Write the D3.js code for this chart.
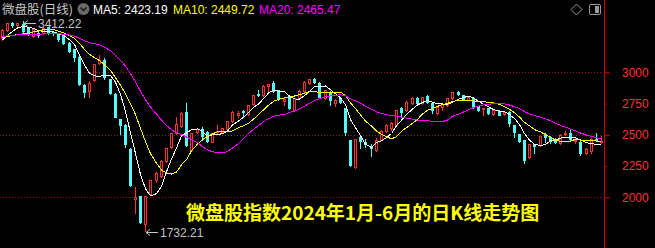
<!DOCTYPE html>
<html>
<head>
<meta charset="utf-8">
<script src="https://cdn.jsdelivr.net/npm/d3@7"></script>
<style>
  html, body { margin: 0; padding: 0; background: #000; overflow: hidden; }
  svg { display: block; }
</style>
</head>
<body>
<svg id="chart" width="655" height="248"></svg>
<script>
// Trading sessions, grouped by month
const tradingDays = [
  ["2023-12", [29]],
  ["2024-01", [2,3,4,5,8,9,10,11,12,15,16,17,18,19,22,23,24,25,26,29,30,31]],
  ["2024-02", [1,2,5,6,7,8,19,20,21,22,23,26,27,28,29]],
  ["2024-03", [1,4,5,6,7,8,11,12,13,14,15,18,19,20,21,22,25,26,27,28,29]],
  ["2024-04", [1,2,3,8,9,10,11,12,15,16,17,18,19,22,23,24,25,26,29,30]],
  ["2024-05", [6,7,8,9,10,13,14,15,16,17,20,21,22,23,24,27,28,29,30,31]],
  ["2024-06", [3,4,5,6,7,11,12,13,14,17,18,19,20,21,24,25,26,27,28]]
];
const dates = tradingDays.flatMap(([m, ds]) => ds.map(d => `${m}-${String(d).padStart(2, "0")}`));

// Daily OHLC of the micro-cap index
const open = [
  3272,3338,3395,3376,3386,3352,3290,3316,3312,3360,3322,3312,3298,3232,3184,3124,2898,2852,2938,3076,
  3098,2944,2826,2624,2578,2384,1986,2010,1784,2026,2138,2170,2292,2404,2516,2570,2684,2376,2524,2546,
  2524,2444,2520,2524,2546,2610,2658,2690,2664,2746,2826,2818,2890,2916,2858,2774,2810,2698,2792,2852,
  2916,2946,2916,2796,2844,2752,2792,2712,2458,2244,2480,2444,2410,2378,2462,2530,2552,2578,2712,2698,
  2752,2792,2756,2810,2752,2676,2724,2738,2792,2844,2818,2780,2792,2728,2704,2712,2664,2692,2666,2684,
  2578,2506,2458,2324,2426,2418,2506,2480,2470,2436,2512,2516,2452,2444,2352,2372,2466,2448
];
const high = [
  3346,3398,3404,3396,3412.22,3356,3350,3320,3364,3366,3330,3318,3302,3244,3190,3132,2910,2928,3070,3140,
  3112,2950,2834,2630,2590,2392,2084,2012,2014,2142,2200,2296,2396,2518,2644,2680,2756,2516,2556,2566,
  2530,2516,2578,2556,2614,2688,2690,2702,2742,2822,2856,2896,2910,2930,2862,2796,2816,2796,2856,2930,
  2950,2954,2922,2862,2850,2790,2800,2718,2462,2470,2498,2470,2426,2474,2536,2584,2604,2702,2726,2768,
  2800,2800,2804,2822,2758,2728,2756,2796,2846,2852,2822,2810,2800,2732,2716,2716,2700,2696,2688,2690,
  2582,2510,2462,2430,2430,2494,2516,2490,2474,2510,2534,2538,2474,2448,2396,2476,2512,2490
];
const low = [
  3262,3334,3360,3366,3326,3300,3284,3284,3306,3310,3302,3252,3228,3166,3092,2900,2805,2805,2930,3070,
  2946,2826,2640,2510,2404,2090,1872,1796,1732.21,2020,2124,2164,2286,2398,2510,2566,2410,2370,2512,2460,
  2444,2440,2514,2518,2540,2604,2640,2646,2660,2740,2812,2812,2842,2846,2778,2738,2710,2690,2786,2846,
  2910,2912,2798,2790,2738,2730,2756,2498,2254,2238,2392,2404,2330,2372,2456,2524,2540,2572,2644,2692,
  2746,2750,2750,2758,2676,2670,2698,2734,2786,2818,2780,2776,2718,2694,2658,2670,2660,2656,2660,2572,
  2484,2446,2276,2318,2356,2412,2444,2436,2438,2430,2500,2462,2432,2338,2346,2356,2452,2438
];
const close = [
  3338,3392,3382,3392,3332,3306,3344,3298,3352,3316,3314,3264,3236,3172,3124,2906,2845,2916,3066,3102,
  2960,2832,2644,2580,2424,2098,2004,1804,2010,2138,2192,2290,2392,2512,2586,2672,2418,2512,2546,2490,
  2450,2512,2530,2552,2610,2684,2676,2680,2738,2818,2818,2890,2906,2852,2784,2788,2716,2792,2850,2924,
  2946,2920,2804,2858,2778,2778,2764,2524,2258,2464,2452,2426,2392,2458,2532,2578,2592,2698,2684,2762,
  2792,2756,2800,2764,2698,2724,2746,2792,2840,2826,2784,2804,2724,2700,2712,2676,2696,2662,2680,2592,
  2524,2452,2298,2426,2410,2490,2486,2454.20,2440.18,2498.52,2515.30,2466.41,2460.84,2352.41,2389.12,2468.35,2455.62,2450.45
];
// Closes of the sessions before the window, used to warm up the moving averages
const priorClose = [3280,3302,3315,3290,3276,3298,3310,3305,3288,3296,3290,3312,3300,3285,3282,3205,3230,3250,3268];

const yTicks = [2000, 2250, 2500, 2750, 3000];
const gridValues = [2000, 2500, 3000];
const maPeriods = [5, 10, 20];
const maColors = ["#ffffff", "#ffff00", "#ff00ff"];
const upColor = "#ff3232", downColor = "#54fcfc";

const W = 655, H = 248, plotRight = 604;
const svg = d3.select("#chart");
svg.append("rect").attr("width", W).attr("height", H).attr("fill", "#000");

const x = d3.scaleBand().domain(dates).range([0, plotRight]);
const cx = i => Math.floor(x(dates[i]) + x.bandwidth() / 2);
const y = d3.scaleLinear().domain([2000, 3000]).range([197.3, 72.3]);
const py = v => Math.round(y(v));

// dotted grid
svg.append("g").selectAll("line").data(gridValues).join("line")
  .attr("x1", 0).attr("x2", plotRight - 1)
  .attr("y1", d => py(d) + 0.5).attr("y2", d => py(d) + 0.5)
  .attr("stroke", "#a01818").attr("stroke-width", 1)
  .attr("stroke-dasharray", "1,2").attr("shape-rendering", "crispEdges");

// candles
const candles = svg.append("g").attr("shape-rendering", "crispEdges");
dates.forEach((d, i) => {
  const o = open[i], c = close[i], h = high[i], l = low[i];
  const up = c >= o;
  const col = up ? upColor : downColor;
  const xc = cx(i);
  candles.append("rect")
    .attr("x", xc).attr("width", 1)
    .attr("y", py(h)).attr("height", Math.max(1, py(l) - py(h) + 1))
    .attr("fill", col);
  const top = py(Math.max(o, c)), bot = py(Math.min(o, c));
  if (up) {
    candles.append("rect")
      .attr("x", xc - 0.5).attr("width", 2)
      .attr("y", top + 0.5).attr("height", Math.max(1, bot - top))
      .attr("fill", "#000").attr("stroke", col).attr("stroke-width", 1);
  } else {
    candles.append("rect")
      .attr("x", xc - 1).attr("width", 3)
      .attr("y", top).attr("height", Math.max(1, bot - top + 1))
      .attr("fill", col);
  }
});

// moving averages
const allClose = priorClose.concat(close);
const lead = priorClose.length;
const maSeries = maPeriods.map(p => close.map((c, i) => d3.mean(allClose.slice(lead + i - p + 1, lead + i + 1))));
const line = d3.line().x((v, i) => cx(i) + 0.5).y(v => y(v));
svg.append("g").selectAll("path").data(maSeries).join("path")
  .attr("d", line)
  .attr("fill", "none")
  .attr("stroke", (d, k) => maColors[k])
  .attr("stroke-width", 1)
  .attr("shape-rendering", "crispEdges");

// extreme labels
const hiIdx = d3.maxIndex(high), loIdx = d3.minIndex(low);
function extremeLabel(i, v, dyArrow) {
  const g = svg.append("g").attr("stroke", "#c4c4c4").attr("fill", "none");
  const ax = cx(i) + 1, ay = py(v) + dyArrow + 0.5;
  g.append("line").attr("x1", ax).attr("x2", ax + 12).attr("y1", ay).attr("y2", ay);
  g.append("path").attr("d", `M${ax + 4},${ay - 3}L${ax},${ay}L${ax + 4},${ay + 3}`);
  svg.append("text").attr("x", ax + 14).attr("y", ay + 4.5)
    .attr("fill", "#c4c4c4").attr("font-family", "'Liberation Sans', Arial, sans-serif")
    .attr("font-size", 12).text(v.toFixed(2));
}
extremeLabel(hiIdx, high[hiIdx], 2);
extremeLabel(loIdx, low[loIdx], 1);

// right axis
const axisG = svg.append("g").attr("transform", `translate(${plotRight},0)`);
axisG.append("line").attr("x1", 0.5).attr("x2", 0.5).attr("y1", 0).attr("y2", H)
  .attr("stroke", "#d00000").attr("stroke-width", 1);
axisG.call(d3.axisRight(y).tickValues(yTicks).tickSize(6).tickPadding(12).tickFormat(d3.format("d")));
axisG.select(".domain").remove();
axisG.selectAll(".tick line").attr("stroke", "#d00000")
  .attr("x2", d => gridValues.includes(d) ? 6 : 3);
axisG.selectAll(".tick text").attr("fill", "#ff3030")
  .attr("font-family", "'Liberation Sans', Arial, sans-serif").attr("font-size", 12);

// legend
const legend = svg.append("g");
legend.append("text").attr("x", 2).attr("y", 14)
  .attr("fill", "#c8c8c8").attr("font-family", "'Noto Sans CJK SC', sans-serif")
  .attr("font-size", 12.5).text("微盘股(日线)");
legend.append("circle").attr("cx", 83.5).attr("cy", 9).attr("r", 6).attr("fill", "#6a6a6a");
legend.append("path").attr("d", "M80.5,7.5L83.5,10.5L86.5,7.5")
  .attr("fill", "none").attr("stroke", "#1c1c1c").attr("stroke-width", 1.6);
const legendX = [93, 173, 259];
maPeriods.forEach((p, k) => {
  const last = maSeries[k][maSeries[k].length - 1];
  legend.append("text").attr("x", legendX[k]).attr("y", 14)
    .attr("fill", maColors[k]).attr("font-family", "'Liberation Sans', Arial, sans-serif")
    .attr("font-size", 12).text(`MA${p}: ${last.toFixed(2)}`);
});

// toolbar icons
const icons = svg.append("g").attr("stroke", "#9a9a9a").attr("fill", "none").attr("stroke-width", 1);
icons.append("path").attr("d", "M576.5,4L582,9.5L576.5,15L571,9.5Z");
icons.append("rect").attr("x", 589.5).attr("y", 4.5).attr("width", 11).attr("height", 10).attr("rx", 1.5);
icons.append("rect").attr("x", 595).attr("y", 6).attr("width", 4).attr("height", 7)
  .attr("fill", "#9a9a9a").attr("stroke", "none");

// title
svg.append("text").attr("x", 186).attr("y", 220)
  .attr("fill", "#ffff00").attr("font-family", "'Noto Sans CJK SC', sans-serif")
  .attr("font-weight", "bold").attr("font-size", 19)
  .text("微盘股指数2024年1月-6月的日K线走势图");
</script>
</body>
</html>
